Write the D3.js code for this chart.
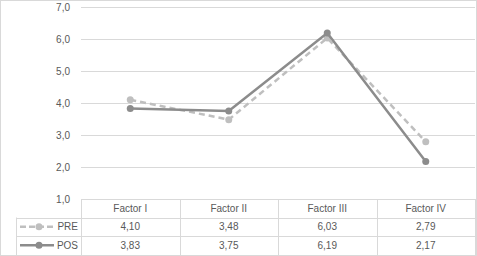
<!DOCTYPE html>
<html lang="es">
<head>
    <meta charset="UTF-8">
    <title>PRE vs POS</title>
    <script src="https://d3js.org/d3.v7.min.js"></script>
    <style>
        body { margin: 0; background: #fff; }
        svg { display: block; font-family: "Liberation Sans", Arial, sans-serif; }
        text { fill: #595959; font-size: 10px; }
    </style>
</head>
<body>
    <div id="chart-container"></div>
    <script>
        const categories = ["Factor I", "Factor II", "Factor III", "Factor IV"];
        const preValues = [4.10, 3.48, 6.03, 2.79];
        const posValues = [3.83, 3.75, 6.19, 2.17];
        const yTicks = [1, 2, 3, 4, 5, 6, 7];

        const series = [
            { name: "PRE", values: preValues, color: "#bfbfbf", dash: "6,4" },
            { name: "POS", values: posValues, color: "#8c8c8c", dash: null }
        ];

        const W = 477, H = 256;
        const plotLeft = 81, plotRight = 475, plotTop = 7, plotBottom = 199;
        const rowH = 18.5;
        const legendLeft = 16;
        const fmt = v => d3.format(".2f")(v).replace(".", ",");
        const fmtTick = v => d3.format(".1f")(v).replace(".", ",");

        const svg = d3.select("#chart-container").append("svg")
            .attr("width", W)
            .attr("height", H);

        svg.append("rect")
            .attr("x", 0.5).attr("y", 0.5)
            .attr("width", W - 1).attr("height", H - 1)
            .attr("fill", "#fff").attr("stroke", "#d9d9d9");

        const x = d3.scaleBand().domain(categories).range([plotLeft, plotRight]);
        const y = d3.scaleLinear().domain([1, 7]).range([plotBottom, plotTop]);

        // gridlines
        svg.append("g").selectAll("line")
            .data(yTicks.filter(t => t > 1))
            .join("line")
            .attr("x1", plotLeft).attr("x2", plotRight)
            .attr("y1", d => Math.round(y(d)) + 0.5)
            .attr("y2", d => Math.round(y(d)) + 0.5)
            .attr("stroke", "#d9d9d9");

        svg.append("g").selectAll("text")
            .data(yTicks)
            .join("text")
            .attr("x", 70)
            .attr("y", d => y(d))
            .attr("dy", "0.35em")
            .attr("text-anchor", "end")
            .text(fmtTick);

        // table grid
        const tbl = svg.append("g").attr("stroke", "#d9d9d9").attr("fill", "none");
        const rowYs = [plotBottom, plotBottom + rowH, plotBottom + 2 * rowH, H - 1];
        rowYs.forEach((ry, i) => {
            tbl.append("line")
                .attr("x1", i === 0 ? plotLeft : legendLeft).attr("x2", plotRight)
                .attr("y1", Math.round(ry) + 0.5).attr("y2", Math.round(ry) + 0.5);
        });
        const colXs = categories.map(c => x(c)).concat([plotRight]);
        colXs.forEach(cx => {
            tbl.append("line")
                .attr("x1", Math.round(cx) + 0.5).attr("x2", Math.round(cx) + 0.5)
                .attr("y1", plotBottom).attr("y2", H - 1);
        });
        tbl.append("line")
            .attr("x1", legendLeft + 0.5).attr("x2", legendLeft + 0.5)
            .attr("y1", plotBottom + rowH).attr("y2", H - 1);

        // header
        svg.append("g").selectAll("text")
            .data(categories)
            .join("text")
            .attr("x", d => x(d) + x.bandwidth() / 2)
            .attr("y", plotBottom + rowH / 2)
            .attr("dy", "0.35em")
            .attr("text-anchor", "middle")
            .text(d => d);

        const line = d3.line()
            .x((d, i) => x(categories[i]) + x.bandwidth() / 2)
            .y(d => y(d));

        series.forEach((s, si) => {
            const g = svg.append("g");
            g.append("path")
                .datum(s.values)
                .attr("d", line)
                .attr("fill", "none")
                .attr("stroke", s.color)
                .attr("stroke-width", 2.5)
                .attr("stroke-dasharray", s.dash);
            g.selectAll("circle")
                .data(s.values)
                .join("circle")
                .attr("cx", (d, i) => x(categories[i]) + x.bandwidth() / 2)
                .attr("cy", d => y(d))
                .attr("r", 3.5)
                .attr("fill", s.color);

            // table row
            const cy = plotBottom + rowH * (si + 1) + rowH / 2;
            g.selectAll("text.val")
                .data(s.values)
                .join("text")
                .attr("class", "val")
                .attr("x", (d, i) => x(categories[i]) + x.bandwidth() / 2)
                .attr("y", cy)
                .attr("dy", "0.35em")
                .attr("text-anchor", "middle")
                .text(fmt);

            g.append("line")
                .attr("x1", 20).attr("x2", 54)
                .attr("y1", cy).attr("y2", cy)
                .attr("stroke", s.color)
                .attr("stroke-width", 2.5)
                .attr("stroke-dasharray", s.dash ? "6,3" : null);
            g.append("circle")
                .attr("cx", 39).attr("cy", cy).attr("r", 3.5)
                .attr("fill", s.color);
            g.append("text")
                .attr("x", 78).attr("y", cy)
                .attr("dy", "0.35em")
                .attr("text-anchor", "end")
                .text(s.name);
        });
    </script>
</body>
</html>
